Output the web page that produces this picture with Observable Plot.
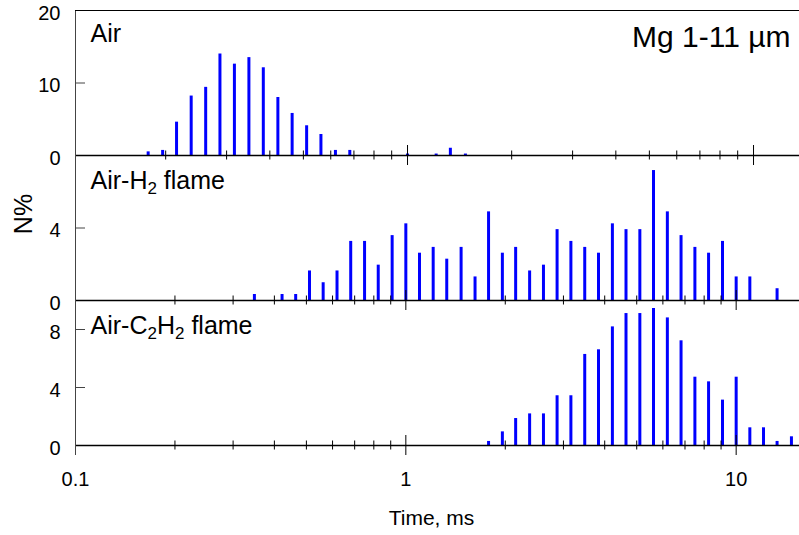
<!DOCTYPE html>
<html>
<head>
<meta charset="utf-8">
<script src="https://cdn.jsdelivr.net/npm/d3@7"></script>
<script src="https://cdn.jsdelivr.net/npm/@observablehq/plot@0.6"></script>
<style>
  html, body { margin: 0; padding: 0; background: #fff; }
  #chart { position: relative; width: 799px; height: 535px; }
  #chart svg { position: absolute; left: 0; }
</style>
</head>
<body>
<div id="chart"></div>
<script>
// Burn-time distributions of Mg particles (1-11 µm), N% per logarithmic time bin
const airTime = [0.178, 0.196, 0.215, 0.237, 0.261, 0.287, 0.316, 0.348, 0.383, 0.422, 0.464, 0.511, 0.562, 0.619, 0.681, 1.0, 1.21, 1.33, 1.47];
const airN    = [0.5, 0.7, 4.6, 8.2, 9.4, 14.0, 12.6, 13.5, 12.1, 8.0, 5.8, 4.1, 2.9, 0.7, 0.7, 0.2, 0.2, 1.0, 0.2];

const h2Time = [0.348, 0.422, 0.464, 0.511, 0.562, 0.619, 0.681, 0.750, 0.825, 0.909, 1.0, 1.10, 1.21, 1.33, 1.47, 1.62, 1.78, 1.96, 2.15, 2.37, 2.61, 2.87, 3.16, 3.48, 3.83, 4.22, 4.64, 5.11, 5.62, 6.19, 6.81, 7.50, 8.25, 9.09, 10.0, 11.0, 13.3];
const h2N    = [0.33, 0.33, 0.33, 1.63, 0.98, 1.63, 3.26, 3.26, 1.95, 3.58, 4.23, 2.61, 2.93, 2.28, 2.93, 1.30, 4.89, 2.61, 2.93, 1.63, 1.95, 3.91, 3.26, 2.93, 2.61, 4.23, 3.91, 3.91, 7.17, 4.89, 3.58, 2.93, 2.61, 3.26, 1.30, 1.30, 0.65];

const c2h2Time = [1.78, 1.96, 2.15, 2.37, 2.61, 2.87, 3.16, 3.48, 3.83, 4.22, 4.64, 5.11, 5.62, 6.19, 6.81, 7.50, 8.25, 9.09, 10.0, 11.0, 12.1, 13.3, 14.7];
const c2h2N    = [0.28, 0.94, 1.86, 2.18, 2.18, 3.43, 3.43, 6.28, 6.6, 8.18, 9.1, 9.1, 9.45, 8.8, 7.22, 4.71, 4.39, 3.13, 4.71, 1.22, 1.22, 0.28, 0.6];

// Axis ticks and labels
const xMinorTicks = [0.2, 0.3, 0.4, 0.5, 0.6, 0.7, 0.8, 0.9, 2, 3, 4, 5, 6, 7, 8, 9];
const xMajorTicks = [1, 10];
const xTickLabels = [0.1, 1, 10];
const airYLabels = [0, 10, 20], airYTicks = [10];
const h2YLabels = [0, 4], h2YTicks = [4];
const c2h2YLabels = [0, 4, 8], c2h2YTicks = [4, 8];

const font = '"Liberation Sans", Arial, Helvetica, sans-serif';
const barColor = "#0000ff";

const rows = (t, n) => t.map((time, i) => ({time, n: n[i]}));

function panel({data, xDomain, yDomain, yLabels, yTicks, top, height, marginBottom, extra = [], leftInsetBottom = 0}) {
  const svg = Plot.plot({
    width: 799,
    height,
    marginLeft: 75,
    marginRight: 0,
    marginTop: 10,
    marginBottom,
    x: {type: "log", domain: xDomain, axis: null},
    y: {domain: yDomain, axis: null},
    style: {background: "transparent", overflow: "visible", fontFamily: font, color: "#000"},
    marks: [
      Plot.ruleX(data, {x: "time", y1: 0, y2: "n", stroke: barColor, strokeWidth: 3}),
      Plot.ruleY([0], {stroke: "#000", strokeWidth: 1.6}),
      Plot.ruleX([xDomain[0]], {stroke: "#444", strokeWidth: 1, insetBottom: leftInsetBottom}),
      // ticks crossing the baseline
      Plot.axisX(xMinorTicks, {anchor: "bottom", tickSize: 9, dy: -4.5, stroke: "#000", fill: "none", label: null}),
      Plot.axisX(xMajorTicks, {anchor: "bottom", tickSize: 20, dy: -10, stroke: "#000", fill: "none", label: null}),
      // inward y ticks and their labels
      Plot.axisY(yTicks, {anchor: "left", tickSize: 10, dx: 10, stroke: "#444", fill: "none", label: null}),
      Plot.axisY(yLabels, {anchor: "left", tickSize: 0, tickPadding: 15, fontSize: 20, dy: 3, fill: "#000", label: null, tickFormat: d => String(d)}),
      ...extra
    ]
  });
  svg.style.top = top + "px";
  return svg;
}

// Replace plain label text with real subscripts
function subscript(svg, full, parts) {
  d3.select(svg).selectAll("text").each(function () {
    if (this.textContent !== full) return;
    const t = d3.select(this).text(null);
    let shifted = false;
    for (const [s, sub] of parts) {
      const ts = t.append("tspan").text(s);
      if (sub && !shifted) { ts.attr("dy", 5).attr("font-size", 17); shifted = true; }
      else if (sub) { ts.attr("font-size", 17); }
      else if (shifted) { ts.attr("dy", -5); shifted = false; }
    }
  });
}

const labelStyle = {frameAnchor: "top-left", textAnchor: "start", lineAnchor: "top", fontSize: 25, dx: 15, dy: 14, fill: "#000"};

const p1 = panel({
  data: rows(airTime, airN),
  xDomain: [0.10975, 13.58],
  yDomain: [0, 20],
  yLabels: airYLabels, yTicks: airYTicks,
  top: 0, height: 170, marginBottom: 15,
  extra: [
    Plot.ruleY([20], {stroke: "#000", strokeWidth: 1}),
    Plot.text(["Air"], {...labelStyle, text: d => d}),
    Plot.text(["Mg 1-11 µm"], {frameAnchor: "top-right", textAnchor: "end", lineAnchor: "top", fontSize: 30, dx: -9, dy: 15, fill: "#000", text: d => d})
  ]
});

const p2 = panel({
  data: rows(h2Time, h2N),
  xDomain: [0.1, 15.55],
  yDomain: [0, 8],
  yLabels: h2YLabels, yTicks: h2YTicks,
  top: 145, height: 170, marginBottom: 15,
  extra: [
    Plot.text(["Air-H2 flame"], {...labelStyle, dy: 16, text: d => d}),
    Plot.text(["N%"], {frameAnchor: "left", textAnchor: "middle", lineAnchor: "middle", rotate: -90, fontSize: 25, dx: -52, dy: -14, fill: "#000", text: d => d})
  ]
});
subscript(p2, "Air-H2 flame", [["Air-H", false], ["2", true], [" flame", false]]);

const p3 = panel({
  data: rows(c2h2Time, c2h2N),
  xDomain: [0.1, 15.55],
  yDomain: [0, 10],
  yLabels: c2h2YLabels, yTicks: c2h2YTicks,
  top: 290, height: 245, marginBottom: 90, leftInsetBottom: -10,
  extra: [
    Plot.text(["Air-C2H2 flame"], {...labelStyle, dy: 16, text: d => d}),
    Plot.axisX(xTickLabels, {anchor: "bottom", tickSize: 0, tickPadding: 26, fontSize: 20, fill: "#000", label: null, tickFormat: d => String(d)}),
    Plot.text(["Time, ms"], {frameAnchor: "bottom", textAnchor: "middle", lineAnchor: "middle", fontSize: 21, dx: -6, dy: 73, fill: "#000", text: d => d})
  ]
});
subscript(p3, "Air-C2H2 flame", [["Air-C", false], ["2", true], ["H", false], ["2", true], [" flame", false]]);

const chart = document.getElementById("chart");
chart.append(p1, p2, p3);
</script>
</body>
</html>
